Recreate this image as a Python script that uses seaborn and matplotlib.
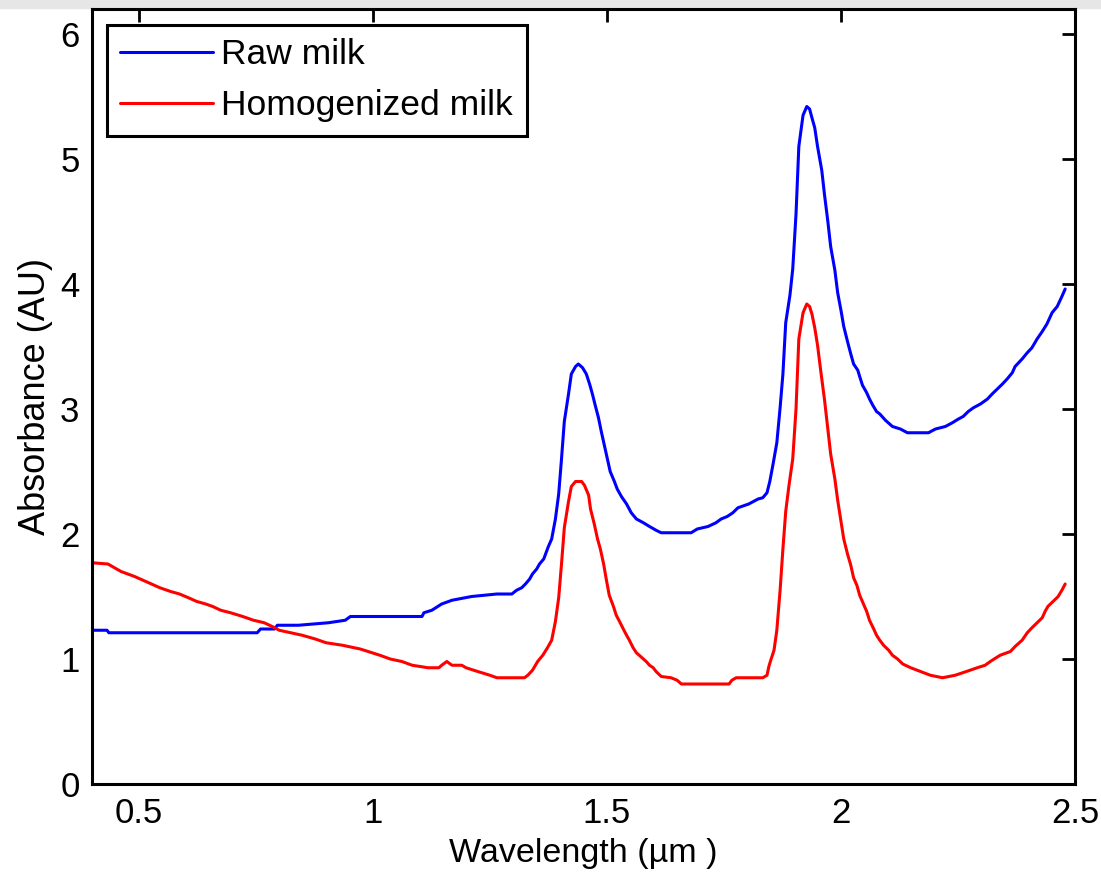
import matplotlib.pyplot as plt
import matplotlib.patches as mpatches
import seaborn as sns
import pandas as pd

# Raw milk spectrum
raw_wl = [0.400, 0.432, 0.436, 0.753, 0.760, 0.790, 0.796, 0.841, 0.905, 0.941,
          0.952, 1.105, 1.109, 1.126, 1.147, 1.169, 1.211, 1.265, 1.297, 1.307,
          1.318, 1.326, 1.335, 1.341, 1.350, 1.356, 1.365, 1.375, 1.382, 1.390,
          1.397, 1.403, 1.409, 1.418, 1.424, 1.433, 1.439, 1.448, 1.456, 1.463,
          1.469, 1.475, 1.482, 1.488, 1.494, 1.501, 1.507, 1.516, 1.522, 1.531,
          1.542, 1.552, 1.563, 1.578, 1.591, 1.605, 1.616, 1.680, 1.693, 1.716,
          1.733, 1.744, 1.757, 1.769, 1.780, 1.803, 1.823, 1.833, 1.842, 1.848,
          1.855, 1.863, 1.870, 1.876, 1.882, 1.891, 1.897, 1.904, 1.910, 1.919,
          1.927, 1.933, 1.938, 1.944, 1.950, 1.959, 1.965, 1.972, 1.978, 1.987,
          1.993, 2.000, 2.006, 2.014, 2.021, 2.027, 2.036, 2.040, 2.046, 2.055,
          2.061, 2.068, 2.076, 2.083, 2.095, 2.110, 2.127, 2.142, 2.187, 2.202,
          2.223, 2.238, 2.251, 2.261, 2.272, 2.283, 2.298, 2.313, 2.323, 2.334,
          2.345, 2.355, 2.366, 2.372, 2.387, 2.398, 2.408, 2.419, 2.430, 2.440,
          2.451, 2.462, 2.472, 2.479]
raw_abs = [1.23, 1.23, 1.21, 1.21, 1.24, 1.24, 1.27, 1.27, 1.29, 1.31,
           1.34, 1.34, 1.37, 1.39, 1.44, 1.47, 1.50, 1.52, 1.52, 1.55,
           1.57, 1.60, 1.64, 1.68, 1.72, 1.76, 1.80, 1.90, 1.96, 2.12,
           2.32, 2.60, 2.90, 3.12, 3.28, 3.34, 3.36, 3.33, 3.28, 3.20,
           3.12, 3.03, 2.93, 2.82, 2.72, 2.60, 2.50, 2.42, 2.36, 2.30,
           2.24, 2.17, 2.12, 2.09, 2.06, 2.03, 2.01, 2.01, 2.04, 2.06,
           2.09, 2.12, 2.14, 2.17, 2.21, 2.24, 2.28, 2.29, 2.33, 2.42,
           2.56, 2.73, 3.01, 3.28, 3.69, 3.91, 4.12, 4.56, 5.10, 5.35,
           5.42, 5.40, 5.33, 5.25, 5.10, 4.91, 4.71, 4.50, 4.30, 4.11,
           3.93, 3.79, 3.66, 3.54, 3.44, 3.36, 3.31, 3.26, 3.19, 3.13,
           3.08, 3.03, 2.98, 2.96, 2.91, 2.86, 2.84, 2.81, 2.81, 2.84,
           2.86, 2.89, 2.92, 2.94, 2.98, 3.01, 3.04, 3.08, 3.12, 3.16,
           3.20, 3.24, 3.29, 3.34, 3.40, 3.45, 3.49, 3.56, 3.62, 3.68,
           3.77, 3.82, 3.90, 3.96]

# Homogenized milk spectrum
hom_wl = [0.400, 0.434, 0.462, 0.491, 0.515, 0.545, 0.568, 0.587, 0.606, 0.624,
          0.643, 0.658, 0.675, 0.696, 0.722, 0.745, 0.768, 0.785, 0.800, 0.824,
          0.849, 0.877, 0.900, 0.935, 0.973, 0.998, 1.015, 1.037, 1.062, 1.084,
          1.118, 1.141, 1.147, 1.158, 1.169, 1.190, 1.199, 1.224, 1.250, 1.265,
          1.324, 1.331, 1.341, 1.352, 1.363, 1.373, 1.382, 1.390, 1.397, 1.403,
          1.409, 1.418, 1.424, 1.433, 1.446, 1.452, 1.461, 1.465, 1.473, 1.480,
          1.486, 1.493, 1.499, 1.505, 1.514, 1.520, 1.527, 1.535, 1.542, 1.548,
          1.556, 1.563, 1.569, 1.578, 1.584, 1.591, 1.599, 1.605, 1.616, 1.637,
          1.650, 1.659, 1.761, 1.767, 1.776, 1.833, 1.842, 1.846, 1.850, 1.857,
          1.863, 1.870, 1.876, 1.882, 1.889, 1.897, 1.904, 1.910, 1.919, 1.927,
          1.933, 1.938, 1.944, 1.950, 1.957, 1.965, 1.972, 1.978, 1.987, 1.993,
          2.000, 2.006, 2.014, 2.021, 2.027, 2.034, 2.040, 2.048, 2.055, 2.061,
          2.070, 2.076, 2.083, 2.091, 2.102, 2.110, 2.121, 2.132, 2.149, 2.170,
          2.191, 2.217, 2.244, 2.268, 2.291, 2.308, 2.319, 2.340, 2.362, 2.372,
          2.387, 2.398, 2.408, 2.419, 2.430, 2.436, 2.442, 2.453, 2.464, 2.472,
          2.479]
hom_abs = [1.77, 1.76, 1.70, 1.66, 1.62, 1.57, 1.54, 1.52, 1.49, 1.46,
           1.44, 1.42, 1.39, 1.37, 1.34, 1.31, 1.29, 1.26, 1.23, 1.21,
           1.19, 1.16, 1.13, 1.11, 1.08, 1.05, 1.03, 1.00, 0.98, 0.95,
           0.93, 0.93, 0.95, 0.98, 0.95, 0.95, 0.93, 0.90, 0.87, 0.85,
           0.85, 0.87, 0.91, 0.98, 1.03, 1.09, 1.15, 1.30, 1.49, 1.76,
           2.05, 2.26, 2.38, 2.42, 2.42, 2.39, 2.31, 2.20, 2.08, 1.96,
           1.88, 1.76, 1.63, 1.51, 1.42, 1.35, 1.30, 1.24, 1.19, 1.15,
           1.09, 1.05, 1.03, 1.00, 0.98, 0.95, 0.93, 0.90, 0.86, 0.85,
           0.83, 0.80, 0.80, 0.83, 0.85, 0.85, 0.87, 0.94, 0.99, 1.07,
           1.23, 1.55, 1.88, 2.18, 2.39, 2.60, 3.00, 3.56, 3.77, 3.84,
           3.82, 3.76, 3.65, 3.51, 3.30, 3.07, 2.84, 2.64, 2.44, 2.27,
           2.10, 1.96, 1.84, 1.75, 1.65, 1.59, 1.51, 1.44, 1.38, 1.31,
           1.24, 1.19, 1.15, 1.11, 1.07, 1.03, 1.00, 0.96, 0.93, 0.90,
           0.87, 0.85, 0.87, 0.90, 0.93, 0.95, 0.98, 1.03, 1.06, 1.10,
           1.15, 1.21, 1.25, 1.29, 1.33, 1.38, 1.42, 1.46, 1.50, 1.55,
           1.60]

labels = ['Raw milk', 'Homogenized milk']
colors = ['#0000ff', '#ff0000']
x_ticks = [0.5, 1, 1.5, 2, 2.5]
y_ticks = [0, 1, 2, 3, 4, 5, 6]

df = pd.concat([
    pd.DataFrame({'wl': raw_wl, 'abs': raw_abs, 'sample': labels[0]}),
    pd.DataFrame({'wl': hom_wl, 'abs': hom_abs, 'sample': labels[1]}),
], ignore_index=True)

sns.set_style('white')
plt.rcParams['font.family'] = ['Liberation Sans', 'DejaVu Sans']
plt.rcParams['text.color'] = 'black'
plt.rcParams['axes.labelcolor'] = 'black'

fig = plt.figure(figsize=(11.01, 8.80), dpi=100)
ax = fig.add_axes([92 / 1101, 1 - 784 / 880, 983 / 1101, 775 / 880])
fig.add_artist(mpatches.Rectangle((0, 1 - 8 / 880), 1, 8 / 880,
                                  transform=fig.transFigure, color='#e6e6e6', zorder=0))

sns.lineplot(data=df, x='wl', y='abs', hue='sample', hue_order=labels,
             palette=dict(zip(labels, colors)), estimator=None, sort=False,
             linewidth=2.2, ax=ax)

ax.set_xlim(0.4, 2.5)
ax.set_ylim(0, 6.2)
ax.set_xticks(x_ticks)
ax.set_xticklabels(['0.5', '1', '1.5', '2', '2.5'])
ax.set_yticks(y_ticks)
ax.tick_params(direction='in', length=9.5, width=2.0, labelsize=25,
               top=True, right=True, colors='black')
ax.tick_params(axis='x', pad=9)
ax.tick_params(axis='y', pad=9)
for s in ax.spines.values():
    s.set_visible(True)
    s.set_color('black')
    s.set_linewidth(2.2)

ax.set_xlabel('Wavelength (µm )', fontsize=24.5, labelpad=6)
ax.set_ylabel('Absorbance (AU)', fontsize=26, labelpad=5)

leg = ax.legend(loc='upper left', bbox_to_anchor=(15 / 983, 1 - 16 / 775),
                borderaxespad=0, fontsize=25.5, frameon=True, fancybox=False,
                framealpha=1, edgecolor='black', handlelength=2.6,
                handletextpad=0.25, labelspacing=0.5, borderpad=0.38)
leg.get_frame().set_linewidth(2.2)
for line in leg.get_lines():
    line.set_linewidth(2.2)

fig.savefig('out.png', dpi=100)
plt.close(fig)
